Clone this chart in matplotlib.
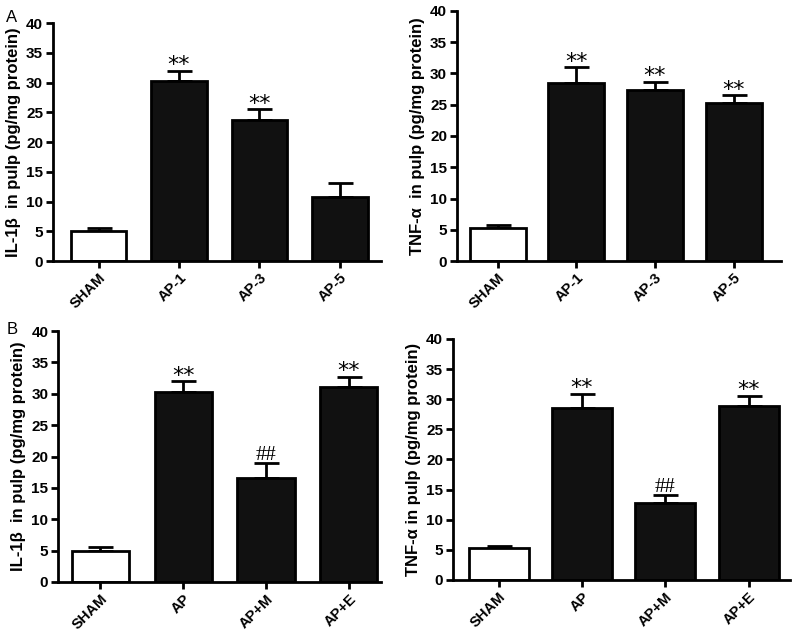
import numpy as np
import matplotlib
matplotlib.use('Agg')
import matplotlib.pyplot as plt

plt.rcParams['font.family'] = ['Liberation Sans', 'DejaVu Sans']

# panel A
groups_a = ['SHAM', 'AP-1', 'AP-3', 'AP-5']
il1b_a = [5.0, 30.3, 23.7, 10.7]
il1b_a_err = [0.5, 1.7, 1.8, 2.5]
il1b_a_marks = ['', '**', '**', '']
tnf_a = [5.3, 28.5, 27.3, 25.3]
tnf_a_err = [0.4, 2.5, 1.4, 1.2]
tnf_a_marks = ['', '**', '**', '**']

# panel B
groups_b = ['SHAM', 'AP', 'AP+M', 'AP+E']
il1b_b = [5.0, 30.3, 16.6, 31.1]
il1b_b_err = [0.5, 1.7, 2.3, 1.6]
il1b_b_marks = ['', '**', '##', '**']
tnf_b = [5.3, 28.5, 12.7, 28.8]
tnf_b_err = [0.4, 2.4, 1.4, 1.8]
tnf_b_marks = ['', '**', '##', '**']

yticks = [0, 5, 10, 15, 20, 25, 30, 35, 40]


def barpanel(rect, groups, vals, errs, marks, ylabel, xlim, width):
    ax = fig.add_axes(rect)
    x = np.arange(len(groups))
    colors = ['white'] + ['#111111'] * (len(groups) - 1)
    ax.bar(x, vals, width=width, color=colors, edgecolor='black', linewidth=2, zorder=2)
    ax.errorbar(x, vals, yerr=[np.zeros(len(vals)), errs], fmt='none', ecolor='black',
                elinewidth=2, capsize=9, capthick=2, zorder=1)
    for xi, v, e, m in zip(x, vals, errs, marks):
        if m == '**':
            ax.text(xi, v + e - 0.7, m, ha='center', va='bottom', fontsize=16,
                    family='DejaVu Sans')
        elif m == '##':
            ax.text(xi, v + e - 0.3, m, ha='center', va='bottom', fontsize=15,
                    family='Liberation Serif')
    ax.set_ylim(0, 40)
    ax.set_xlim(*xlim)
    ax.set_yticks(yticks)
    ax.set_xticks(x)
    ax.set_xticklabels(groups, rotation=45, ha='right', rotation_mode='anchor',
                       fontsize=10.5, fontweight='bold')
    for lab in ax.get_yticklabels():
        lab.set_fontweight('bold')
        lab.set_fontsize(11)
    ax.set_ylabel(ylabel, fontsize=12, fontweight='bold', labelpad=4)
    ax.spines['top'].set_visible(False)
    ax.spines['right'].set_visible(False)
    ax.spines['left'].set_linewidth(2)
    ax.spines['bottom'].set_linewidth(2)
    ax.tick_params(width=2, length=5, pad=2)
    return ax


fig = plt.figure(figsize=(8, 6.43), dpi=100)

barpanel([0.066, 0.594, 0.41, 0.370], groups_a, il1b_a, il1b_a_err, il1b_a_marks,
         'IL-1β  in pulp (pg/mg protein)', (-0.57, 3.51), 0.69)
barpanel([0.571, 0.594, 0.405, 0.389], groups_a, tnf_a, tnf_a_err, tnf_a_marks,
         'TNF-α  in pulp (pg/mg protein)', (-0.52, 3.6), 0.71)
barpanel([0.0725, 0.095, 0.404, 0.390], groups_b, il1b_b, il1b_b_err, il1b_b_marks,
         'IL-1β  in pulp (pg/mg protein)', (-0.51, 3.39), 0.69)
barpanel([0.566, 0.098, 0.421, 0.375], groups_b, tnf_b, tnf_b_err, tnf_b_marks,
         'TNF-α in pulp (pg/mg protein)', (-0.55, 3.49), 0.72)

fig.text(0.008, 0.985, 'A', fontsize=12, va='top')
fig.text(0.008, 0.5, 'B', fontsize=12, va='top')

fig.savefig('out.png', dpi=100)
